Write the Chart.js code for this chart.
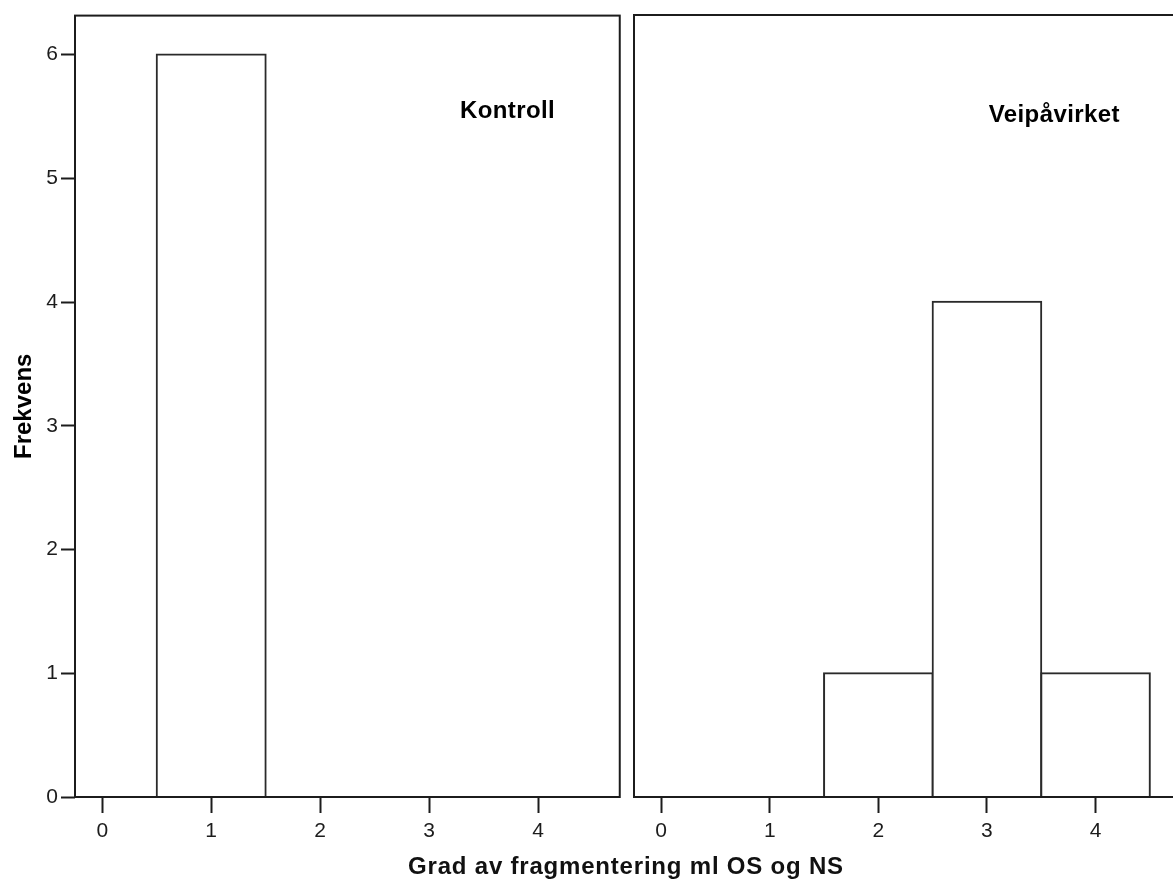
<!DOCTYPE html>
<html>
<head>
<meta charset="utf-8">
<script src="https://cdn.jsdelivr.net/npm/chart.js@4/dist/chart.umd.min.js"></script>
<style>
  html, body { margin: 0; padding: 0; overflow: hidden; background: #fff; width: 1173px; height: 884px; }
  canvas { position: absolute; top: 0; }
  #left { left: 0; }
  #right { left: 625px; }
  #xtitle {
    position: absolute; left: 326px; width: 600px; top: 852px;
    text-align: center; font: bold 24px "Liberation Sans", Arial, sans-serif;
    letter-spacing: 0.8px; color: #111; white-space: nowrap;
  }
</style>
</head>
<body>
<canvas id="left" width="640" height="884"></canvas>
<canvas id="right" width="575" height="884"></canvas>
<div id="xtitle">Grad av fragmentering ml OS og NS</div>
<script>
// Degree of fragmentation (0-4) and frequency per group
const categories = [0, 1, 2, 3, 4];
const kontroll = [0, 6, 0, 0, 0];
const veipavirket = [0, 0, 1, 4, 1];
const yTicks = [0, 1, 2, 3, 4, 5, 6];
const xTicks = [0, 1, 2, 3, 4];
const groupNames = ['Kontroll', 'Veipåvirket'];
const yLabel = 'Frekvens';

const FONT = '"Liberation Sans", Arial, sans-serif';
const INK = '#1c1c1c';

// Frame around the plot area and the group name inside it
const panelPlugin = {
  id: 'panel',
  afterDatasetsDraw(chart, args, opts) {
    const { ctx, chartArea: a, scales } = chart;
    ctx.save();
    ctx.strokeStyle = INK;
    ctx.lineWidth = 2;
    ctx.strokeRect(a.left, a.top, a.right - a.left, a.bottom - a.top);
    ctx.fillStyle = '#000';
    ctx.font = 'bold 24px ' + FONT;
    if ('letterSpacing' in ctx) ctx.letterSpacing = '0.4px';
    ctx.textAlign = 'center';
    ctx.textBaseline = 'alphabetic';
    ctx.fillText(opts.text, scales.x.getPixelForValue(opts.x), scales.y.getPixelForValue(opts.y));
    ctx.restore();
  }
};

function makeChart(id, values, name, labelX, labelY, showY, padding) {
  return new Chart(document.getElementById(id), {
    type: 'bar',
    data: {
      datasets: [{
        data: categories.map((c, i) => ({ x: c, y: values[i] })),
        backgroundColor: '#ffffff',
        borderColor: '#2a2a2a',
        borderWidth: 2,
        inflateAmount: 1,
        barPercentage: 1,
        categoryPercentage: 1
      }]
    },
    options: {
      responsive: false,
      animation: false,
      devicePixelRatio: 1,
      layout: { padding },
      plugins: {
        legend: { display: false },
        tooltip: { enabled: false },
        panel: { text: name, x: labelX, y: labelY }
      },
      scales: {
        x: {
          type: 'linear',
          offset: false,
          min: -0.25,
          max: 4.75,
          afterBuildTicks: s => { s.ticks = xTicks.map(v => ({ value: v })); },
          afterFit: s => { s.height = 87; },
          grid: { display: true, offset: false, drawOnChartArea: false, drawTicks: true, tickLength: 16, tickWidth: 2, tickColor: INK },
          border: { display: false },
          ticks: { padding: 6, color: INK, font: { family: FONT, size: 21 } }
        },
        y: {
          display: showY,
          min: 0,
          max: 6.315,
          afterBuildTicks: s => { s.ticks = yTicks.map(v => ({ value: v })); },
          afterFit: s => { s.width = showY ? 75 : 0; },
          grid: { display: true, drawOnChartArea: false, drawTicks: true, tickLength: 14, tickWidth: 2, tickColor: INK },
          border: { display: false },
          ticks: { padding: 3, color: INK, font: { family: FONT, size: 21 } },
          title: { display: true, text: yLabel, color: '#000', padding: { top: 10, bottom: 0 }, font: { family: FONT, size: 24, weight: 'bold' } }
        }
      }
    },
    plugins: [panelPlugin]
  });
}

makeChart('left', kontroll, groupNames[0], 3.72, 5.49, true, { top: 15, right: 20.25, left: 0, bottom: 0 });
makeChart('right', veipavirket, groupNames[1], 3.62, 5.45, false, { top: 15, right: 23, left: 9, bottom: 0 });
</script>
</body>
</html>
